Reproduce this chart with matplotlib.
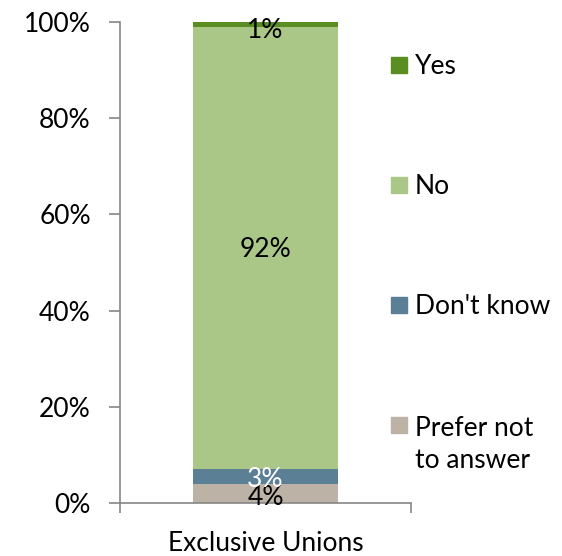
import matplotlib
matplotlib.use("Agg")
import matplotlib.pyplot as plt
from matplotlib.patches import Rectangle

categories = ["Exclusive Unions"]
series = ["Prefer not\nto answer", "Don't know", "No", "Yes"]
values = [4, 3, 92, 1]
colors = ["#bcb2a6", "#5b7f95", "#abc787", "#5a8e22"]
label_colors = ["black", "white", "black", "black"]
yticks = [0, 20, 40, 60, 80, 100]
ytick_labels = ["0%", "20%", "40%", "60%", "80%", "100%"]

plt.rcParams['font.family'] = ['Lato', 'DejaVu Sans']
FS = 19
W, H = 562, 556
fig = plt.figure(figsize=(W / 100, H / 100), dpi=100)
ax = fig.add_axes([120 / W, (H - 503) / H, (411 - 120) / W, (503 - 22) / H])

bottom = 0
for s, v, c, lc in zip(series, values, colors, label_colors):
    ax.bar(0, v, width=0.5, bottom=bottom, color=c, zorder=2)
    if v < 2:
        ycen = bottom - 0.8
    elif v == 3:
        ycen = bottom + v / 2 - 0.7
    elif v == 4:
        ycen = bottom + v / 2 - 0.8
    else:
        ycen = bottom + v / 2 - 0.3
    ax.text(0, ycen, f"{v}%", ha="center", va="center", fontsize=FS, color=lc, zorder=3)
    bottom += v

ax.set_xlim(-0.5, 0.5)
ax.set_ylim(0, 100)
ax.set_yticks(yticks)
ax.set_yticklabels(ytick_labels, fontsize=FS)
ax.set_xticks([0])
ax.set_xticklabels(categories, fontsize=FS)
ax.set_xticks([-0.5, 0.5], minor=True)
ax.tick_params(axis="x", which="major", length=0, pad=20)
ax.tick_params(axis="x", which="minor", length=7, color="#868686", width=1.2)
ax.tick_params(axis="y", length=8, color="#868686", width=1.2, pad=13)
for sp in ["top", "right"]:
    ax.spines[sp].set_visible(False)
for sp in ["left", "bottom"]:
    ax.spines[sp].set_color("#868686")
    ax.spines[sp].set_linewidth(1.2)

# legend (top to bottom: Yes, No, Don't know, Prefer not to answer)
leg_y = [65, 185, 305, 425]
for (s, c), yp in zip(list(zip(series, colors))[::-1], leg_y):
    fig.add_artist(Rectangle((391 / W, (H - yp - 8) / H), 16 / W, 16 / H,
                             transform=fig.transFigure, color=c))
    if "\n" in s:
        fig.text(415 / W, (H - yp - 19) / H, s, ha="left", va="center",
                 fontsize=FS, linespacing=1.35)
    else:
        fig.text(415 / W, (H - yp - 2) / H, s, ha="left", va="center", fontsize=FS)

fig.savefig("out.png", dpi=100)
